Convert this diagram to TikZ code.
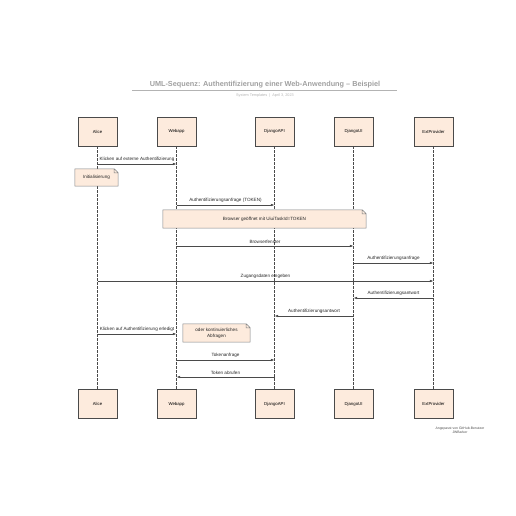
\documentclass[tikz,border=0pt]{standalone}
\usepackage{fontspec}
\setmainfont{Liberation Sans}
\usetikzlibrary{calc,arrows.meta,positioning}
\definecolor{boxfill}{HTML}{FDEBDD}
\definecolor{boxline}{HTML}{4A4A4A}
\definecolor{titlegray}{HTML}{A0A0A0}
\tikzset{
  actor/.style={draw=boxline, fill=boxfill, line width=0.6pt, minimum width=39pt, minimum height=29pt, inner sep=0pt, font=\fontsize{4.3}{5}\selectfont},
  lifeline/.style={draw=boxline, line width=0.6pt, dash pattern=on 2.5pt off 1.5pt},
  msg/.style={-{Latex[length=3.6pt,width=2.6pt]}, draw=boxline, line width=0.6pt},
  msglabel/.style={above, inner sep=2pt, text=black!85, font=\fontsize{4.6}{5.5}\selectfont},
  notebox/.style={fill=boxfill, inner sep=0pt, align=center, text=black!85, font=\fontsize{4.6}{5.8}\selectfont},
  noteline/.style={draw=boxline!70, line width=0.5pt},
  title/.style={text=titlegray, font=\bfseries\fontsize{7.3}{8}\selectfont},
  subtitle/.style={text=titlegray!80, font=\fontsize{3.8}{4.5}\selectfont},
  credit/.style={align=center, text=black!70, font=\fontsize{3.4}{4.2}\selectfont}
}
% folded corner for a note node
\newcommand{\notefold}[1]{%
  \fill[white] ([xshift=-4pt]#1.north east) -- (#1.north east) -- ([yshift=-4pt]#1.north east) -- cycle;
  \draw[noteline] (#1.north west) -- ([xshift=-4pt]#1.north east) -- ([yshift=-4pt]#1.north east) -- (#1.south east) -- (#1.south west) -- cycle
    ([xshift=-4pt]#1.north east) |- ([yshift=-4pt]#1.north east);
}

\begin{document}
\begin{tikzpicture}[x=1pt, y=-1pt]
  \useasboundingbox (0,0) rectangle (516,516);
  % title
  \node[title] (ttl) at (265,85) {UML-Sequenz: Authentifizierung einer Web-Anwendung – Beispiel};
  \draw[titlegray!80, line width=0.6pt] (132,90) -- (397,90);
  \node[subtitle] (sub) at (265,95.5) {System Templates \ | \ April 3, 2023};
  % actors, top and bottom
  \foreach \nm/\xx/\txt in {alice/97.5/Alice, webapp/176.5/Webapp, djangoapi/274.5/DjangoAPI, djangoui/353.5/DjangoUI, extprov/433.5/ExtProvider}{
    \node[actor] (\nm) at (\xx,131.5) {\txt};
    \node[actor] (\nm-b) at (\xx,404) {\txt};
    \draw[lifeline] (\nm.south) -- (\nm-b.north);
  }
  % messages
  \foreach \src/\dst/\yy/\txt in {
      alice/webapp/164/Klicken auf externe Authentifizierung,
      webapp/djangoapi/205/Authentifizierungsanfrage (TOKEN),
      webapp/djangoui/246/Browserfenster,
      djangoui/extprov/263/Authentifizierungsanfrage,
      alice/extprov/281/Zugangsdaten eingeben,
      extprov/djangoui/298/Authentifizierungsantwort,
      djangoui/djangoapi/316/Authentifizierungsantwort,
      alice/webapp/334/Klicken auf Authentifizierung erledigt,
      webapp/djangoapi/360/Tokenanfrage,
      djangoapi/webapp/377/Token abrufen}{
    \draw[msg] (\src |- 0,\yy) -- node[msglabel]{\txt} (\dst |- 0,\yy);
  }
  % notes
  \node[notebox, minimum width=43pt, minimum height=17pt] (init) at (96.5,177.5) {Initialisierung};
  \notefold{init}
  \node[notebox, minimum width=203pt, minimum height=18pt] (browser) at (264.5,219) {Browser geöffnet mit UiuiTaskId=TOKEN};
  \notefold{browser}
  \node[notebox, minimum width=67pt, minimum height=18pt] (poll) at (216.5,333) {oder kontinuierliches\\Abfragen};
  \notefold{poll}
  % credit
  \node[credit] (cred) at (460,430) {Angepasst von GitHub-Benutzer\\JWBarker};
\end{tikzpicture}
\end{document}
